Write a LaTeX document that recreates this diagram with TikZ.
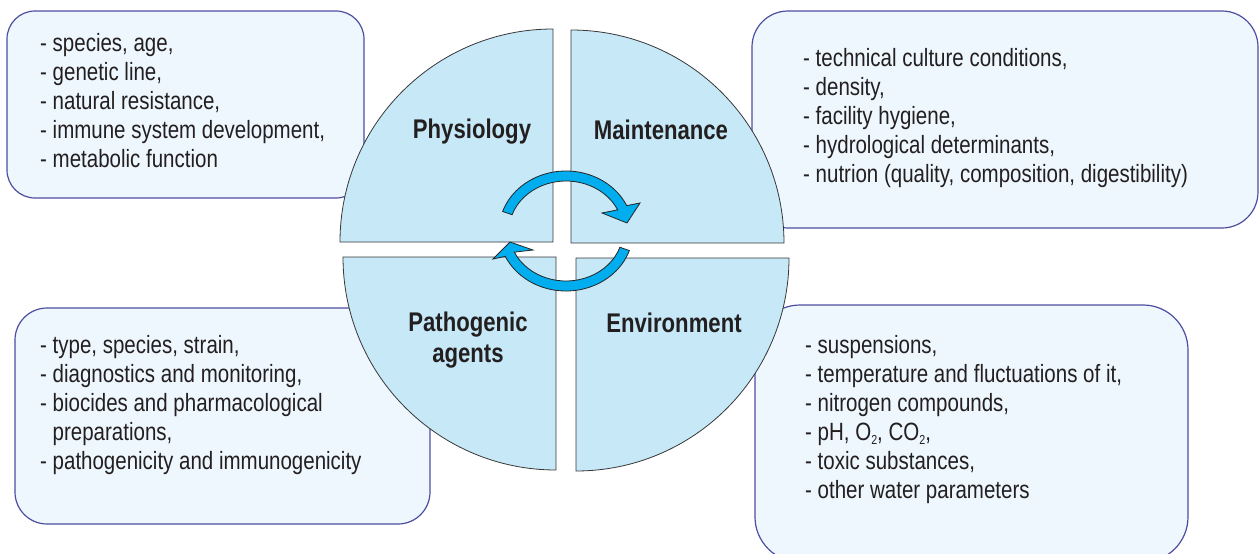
\documentclass[tikz,border=0pt]{standalone}
\usepackage{fontspec}
\setmainfont{Liberation Sans}[FakeStretch=0.82]
\definecolor{boxfill}{RGB}{238,247,253}
\definecolor{boxline}{RGB}{78,78,160}
\definecolor{quadfill}{RGB}{198,232,247}
\definecolor{quadline}{RGB}{55,55,55}
\definecolor{arrowcyan}{RGB}{0,174,239}
\definecolor{textdark}{RGB}{35,31,32}
\newcommand{\lowtwo}{\raisebox{-4pt}{\fontsize{13}{13}\selectfont 2}}

\begin{document}
\begin{tikzpicture}[x=1pt,y=1pt,
	main node/.style={font=\bfseries\fontsize{27}{31}\selectfont,align=center,text=textdark},
	list node/.style={font=\fontsize{25}{29}\selectfont,align=left,anchor=north west,inner sep=0pt,text=textdark},
	info box/.style={draw=boxline,fill=boxfill,line width=1.2pt},
	quarter/.style={draw=quadline,fill=quadfill,line width=0.8pt},
	cycle arrow/.style={draw=black!85,fill=arrowcyan,line width=0.8pt,line join=miter}]
	
	\useasboundingbox (0,0) rectangle (1259,-554);
	
	% boxes
	\draw[info box,rounded corners=28pt] (7,-11) rectangle (364,-198);
	\draw[info box,rounded corners=36pt] (752,-11) rectangle (1258,-228);
	\draw[info box,rounded corners=32pt] (15,-308) rectangle (430,-524);
	\draw[info box,rounded corners=45pt] (755,-305) rectangle (1188,-562);
	
	\node[list node] (physlist) at (40,-30.7) {\strut- species, age,\\- genetic line,\\- natural resistance,\\- immune system development,\\- metabolic function};
	\node[list node] (maintlist) at (803,-45.7) {\strut- technical culture conditions,\\- density,\\- facility hygiene,\\- hydrological determinants,\\- nutrion (quality, composition, digestibility)};
	\node[list node] (patholist) at (40,-332.7) {\strut- type, species, strain,\\- diagnostics and monitoring,\\- biocides and pharmacological\\\hphantom{-\ }preparations,\\- pathogenicity and immunogenicity};
	\node[list node] (envlist) at (805,-332.7) {\strut- suspensions,\\- temperature and fluctuations of it,\\- nitrogen compounds,\\- pH, O\lowtwo, CO\lowtwo,\\- toxic substances,\\- other water parameters};
	
	% quarters of the circle
	\coordinate (tl) at (553,-242);
	\coordinate (tr) at (571,-243);
	\coordinate (bl) at (556,-257);
	\coordinate (br) at (576,-258);
	\draw[quarter] (tl) -- ++(-213,0) arc[start angle=180,end angle=90,radius=213] -- cycle;
	\draw[quarter] (tr) -- ++(0,213) arc[start angle=90,end angle=0,radius=213] -- cycle;
	\draw[quarter] (br) -- ++(213,0) arc[start angle=0,end angle=-90,radius=213] -- cycle;
	\draw[quarter] (bl) -- ++(0,-213) arc[start angle=270,end angle=180,radius=213] -- cycle;
	
	\node[main node] (phys) at (472,-131.5) {Physiology};
	\node[main node] (maint) at (661,-130) {Maintenance};
	\node[main node] (patho) at (468,-340) {Pathogenic\\agents};
	\node[main node] (envir) at (674,-323) {Environment};
	
	% circular arrows
	\begin{scope}[shift={(566,-231)}]
		\draw[cycle arrow] (161:67 and 60) arc[start angle=161,end angle=25,x radius=67,y radius=60]
			-- (74,28) -- (61,8) -- (36,18) -- (25:57 and 50)
			arc[start angle=25,end angle=161,x radius=57,y radius=50] -- cycle;
		\draw[cycle arrow] (-19:67 and 60) arc[start angle=-19,end angle=-155,x radius=67,y radius=60]
			-- (-73,-28) -- (-56,-11) -- (-33,-19) -- (-155:57 and 50)
			arc[start angle=-155,end angle=-19,x radius=57,y radius=50] -- cycle;
	\end{scope}
\end{tikzpicture}
\end{document}
